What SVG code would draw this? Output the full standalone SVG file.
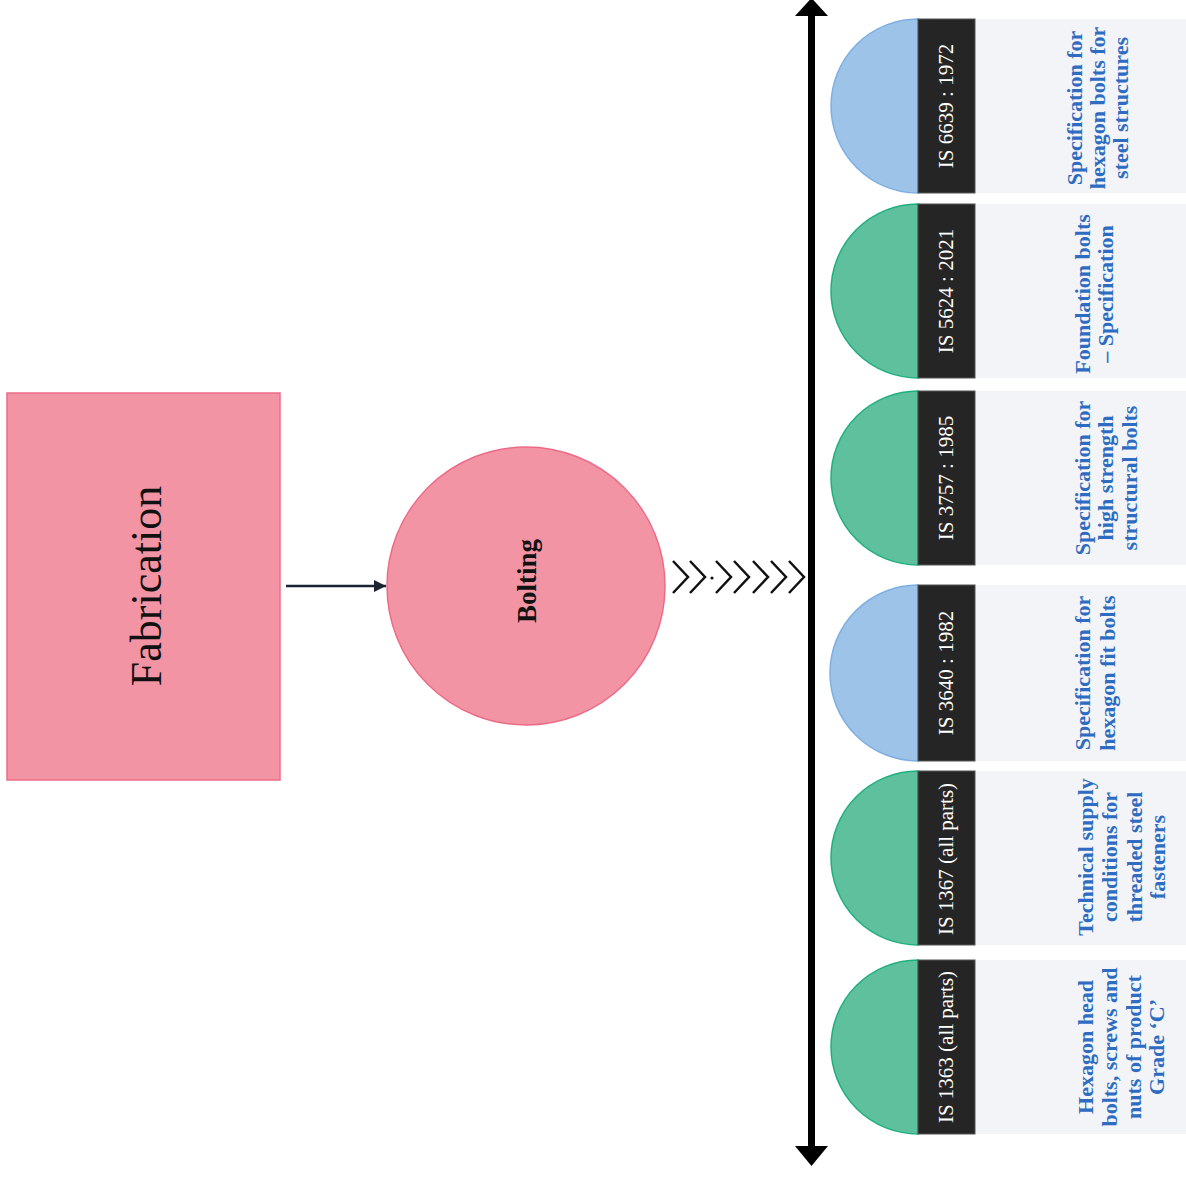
<svg xmlns="http://www.w3.org/2000/svg" width="1186" height="1177" viewBox="0 0 1186 1177">
<style>
.bg{fill:#ffffff}
.pink{fill:#F394A5;stroke:#EC6C86;stroke-width:1.5}
.main{font-family:"Liberation Serif","DejaVu Serif",serif;fill:#111111}
.blue{fill:#9DC3E8;stroke:#7DB0E2;stroke-width:1.5}
.green{fill:#5EC09D;stroke:#1FB07F;stroke-width:1.5}
.strip{fill:#252525;stroke:#555555;stroke-width:1}
.panel{fill:#F2F4F7}
.code{font-family:"Liberation Serif","DejaVu Serif",serif;font-size:21px;fill:#ffffff;text-anchor:middle}
.desc{font-family:"Liberation Serif","DejaVu Serif",serif;font-size:22px;font-weight:bold;fill:#2E6CC2;text-anchor:middle}
.chev{fill:none;stroke:#111111;stroke-width:2.5}
</style>
<defs>
<marker id="ah" viewBox="0 0 10 10" refX="10" refY="5" markerWidth="5" markerHeight="5" orient="auto" markerUnits="strokeWidth">
<path d="M0,0 L10,5 L0,10 z" fill="#1B2433"/>
</marker>
</defs>
<rect class="bg" x="0" y="0" width="1186" height="1177"/>

<g id="fabrication">
<rect class="pink" x="7" y="393" width="273" height="387"/>
<text class="main" font-size="44" text-anchor="middle" transform="translate(161,586) rotate(-90)">Fabrication</text>
</g>

<g id="bolting">
<circle class="pink" cx="526" cy="586" r="139"/>
<text class="main" font-size="27" font-weight="bold" text-anchor="middle" transform="translate(536,581) rotate(-90)">Bolting</text>
</g>

<g id="connectors">
<line x1="286" y1="586" x2="386" y2="586" stroke="#1B2433" stroke-width="2.5" marker-end="url(#ah)"/>
<path class="chev" d="M673,561 L688,577 L673,593 M690,561 L705,577 L690,593 M716,561 L731,577 L716,593 M734,561 L749,577 L734,593 M753,561 L768,577 L753,593 M771,561 L786,577 L771,593 M789,561 L804,577 L789,593"/>
<circle cx="712" cy="578" r="1.6" fill="#111111"/>
</g>

<g id="axis">
<rect x="808" y="12" width="7" height="1138" fill="#000000"/>
<path d="M811.5,-2 L828,16 L795,16 z" fill="#000000"/>
<path d="M811.5,1166 L828,1146 L795,1146 z" fill="#000000"/>
</g>

<g id="card-is6639">
<path class="blue" d="M918,19 A87,87 0 0 0 918,193 Z"/>
<rect class="panel" x="975" y="19" width="211" height="174"/>
<rect class="strip" x="918" y="19" width="57" height="174"/>
<text class="code" transform="translate(953,106) rotate(-90)">IS 6639 : 1972</text>
<text class="desc" transform="translate(0,108) rotate(-90)"><tspan x="0" y="1082">Specification for</tspan><tspan x="0" y="1105">hexagon bolts for</tspan><tspan x="0" y="1128">steel structures</tspan></text>
</g>

<g id="card-is5624">
<path class="green" d="M918,204 A87,87 0 0 0 918,378 Z"/>
<rect class="panel" x="975" y="204" width="211" height="174"/>
<rect class="strip" x="918" y="204" width="57" height="174"/>
<text class="code" transform="translate(953,291) rotate(-90)">IS 5624 : 2021</text>
<text class="desc" transform="translate(0,294) rotate(-90)"><tspan x="0" y="1090">Foundation bolts</tspan><tspan x="0" y="1113">– Specification</tspan></text>
</g>

<g id="card-is3757">
<path class="green" d="M918,391 A87,87 0 0 0 918,565 Z"/>
<rect class="panel" x="975" y="391" width="211" height="174"/>
<rect class="strip" x="918" y="391" width="57" height="174"/>
<text class="code" transform="translate(953,478) rotate(-90)">IS 3757 : 1985</text>
<text class="desc" transform="translate(0,478) rotate(-90)"><tspan x="0" y="1090">Specification for</tspan><tspan x="0" y="1113">high strength</tspan><tspan x="0" y="1137">structural bolts</tspan></text>
</g>

<g id="card-is3640">
<path class="blue" d="M918,585 A88,88 0 0 0 918,761 Z"/>
<rect class="panel" x="975" y="585" width="211" height="176"/>
<rect class="strip" x="918" y="585" width="57" height="176"/>
<text class="code" transform="translate(953,673) rotate(-90)">IS 3640 : 1982</text>
<text class="desc" transform="translate(0,673) rotate(-90)"><tspan x="0" y="1090">Specification for</tspan><tspan x="0" y="1115">hexagon fit bolts</tspan></text>
</g>

<g id="card-is1367">
<path class="green" d="M918,771 A87,87 0 0 0 918,945 Z"/>
<rect class="panel" x="975" y="771" width="211" height="174"/>
<rect class="strip" x="918" y="771" width="57" height="174"/>
<text class="code" transform="translate(953,859) rotate(-90)">IS 1367 (all parts)</text>
<text class="desc" transform="translate(0,857) rotate(-90)"><tspan x="0" y="1093">Technical supply</tspan><tspan x="0" y="1117">conditions for</tspan><tspan x="0" y="1142">threaded steel</tspan><tspan x="0" y="1165">fasteners</tspan></text>
</g>

<g id="card-is1363">
<path class="green" d="M918,960 A87,87 0 0 0 918,1134 Z"/>
<rect class="panel" x="975" y="960" width="211" height="174"/>
<rect class="strip" x="918" y="960" width="57" height="174"/>
<text class="code" transform="translate(953,1047) rotate(-90)">IS 1363 (all parts)</text>
<text class="desc" transform="translate(0,1047) rotate(-90)"><tspan x="0" y="1093">Hexagon head</tspan><tspan x="0" y="1117">bolts, screws and</tspan><tspan x="0" y="1141">nuts of product</tspan><tspan x="0" y="1164">Grade ‘C’</tspan></text>
</g>
</svg>
